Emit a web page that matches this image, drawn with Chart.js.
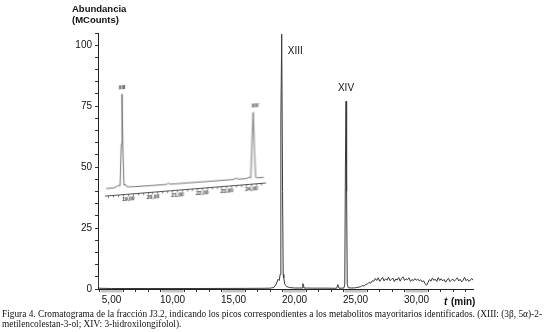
<!DOCTYPE html>
<html>
<head>
<meta charset="utf-8">
<script src="https://cdn.jsdelivr.net/npm/chart.js@4.4.1/dist/chart.umd.min.js"></script>
<style>
  html, body { margin: 0; padding: 0; background: #fff; }
  #wrap { position: relative; width: 544px; height: 332px; overflow: hidden; }
  #main { position: absolute; left: 0; top: 0; }
  #inset { position: absolute; left: 100px; top: 80px; transform-origin: 0 0; transform: skewY(-4.65deg); }
  #caption { position: absolute; left: 2px; top: 309px; font-family: "Liberation Serif", "Times New Roman", serif;
             font-size: 10px; line-height: 9.6px; color: #111; white-space: nowrap; transform-origin: 0 0; }
</style>
</head>
<body>
<div id="wrap">
  <canvas id="main" width="544" height="310"></canvas>
  <canvas id="inset" width="170" height="125"></canvas>
  <div id="caption"><span id="cap1">Figura 4. Cromatograma de la fracción J3.2, indicando los picos correspondientes a los metabolitos mayoritarios identificados. (XIII: (3β, 5α)-2-</span><br><span>metilencolestan-3-ol; XIV: 3-hidroxilongifolol).</span></div>
</div>
<script>
// main chromatogram (t in min, abundance in MCounts)
const mainTime = [3.89, 3.93, 4.0, 5.0, 8.0, 12.0, 16.0, 17.5, 18.0, 18.3, 18.5, 18.65, 18.75, 18.82, 18.88, 18.95, 19.02, 19.07, 19.12, 19.2, 19.35, 19.6, 20.0, 20.62, 20.68, 20.72, 20.78, 21.5, 22.5, 23.45, 23.55, 23.65, 24.05, 24.12, 24.17, 24.22, 24.27, 24.32, 24.4, 24.7, 25.0, 25.2, 25.4, 25.55, 25.7, 25.85, 26.0, 26.12, 26.25, 26.38,
  26.5, 26.62, 26.74, 26.86, 26.98, 27.1, 27.22, 27.34, 27.46, 27.58, 27.7, 27.82, 27.94, 28.06, 28.18, 28.3, 28.42, 28.54, 28.66, 28.78, 28.9, 29.02, 29.14, 29.26, 29.38, 29.5, 29.62, 29.74, 29.86, 29.98,
  30.1, 30.22, 30.34, 30.46, 30.58, 30.7, 30.82, 30.94, 31.06, 31.18, 31.3, 31.42, 31.54, 31.66, 31.78, 31.9, 32.02, 32.14, 32.26, 32.38, 32.5, 32.62, 32.74, 32.86, 32.98, 33.1, 33.22, 33.34, 33.46, 33.58, 33.7, 33.82, 33.94, 34.06, 34.18, 34.3, 34.42, 34.54, 34.62];
const mainAbund = [5.0, 0.8, 0.3, 0.2, 0.2, 0.2, 0.25, 0.3, 0.35, 0.6, 2.0, 4.0, 3.5, 6.0, 70, 104.5, 40, 6.0, 4.5, 2.0, 1.0, 0.6, 0.4, 0.4, 2.2, 2.0, 0.4, 0.35, 0.35, 0.3, 1.8, 0.3, 0.4, 2.0, 50, 77, 40, 2.0, 0.5, 0.4, 0.5, 0.7, 0.9, 1.4, 1.2, 1.9, 2.1, 2.8, 2.4, 3.4,
  3.2, 4.3, 3.5, 4.6, 3.1, 4.0, 4.8, 3.3, 4.2, 3.6, 4.9, 3.4, 3.9, 4.5, 3.0, 4.1, 3.7, 4.7, 3.2, 4.4, 5.0, 3.5, 4.2, 3.8, 4.6, 3.1, 3.9, 3.4, 4.3, 3.6,
  4.1, 3.3, 3.8, 2.9, 3.4, 2.2, 1.5, 2.6, 3.9, 3.2, 4.5, 3.6, 4.0, 3.1, 4.7, 3.5, 4.2, 3.3, 3.9, 2.8, 3.7, 4.4, 3.0, 3.6, 4.1, 3.2, 3.9, 4.6, 3.3, 4.0, 2.9, 3.6, 4.8, 3.4, 4.0, 3.1, 3.8, 4.3, 3.6];

// inset (zoom of 18-24.5 min)
const insetTime = [18.10, 18.40, 18.55, 18.62, 18.66, 18.71, 18.74, 18.78, 18.82, 18.87, 18.95, 19.2, 19.6, 20.0, 20.55, 20.62, 20.68, 21.0, 21.5, 22.0, 22.5, 23.0, 23.30, 23.38, 23.45, 23.8, 23.92, 23.97, 24.02, 24.07, 24.12, 24.17, 24.25, 24.5];
const insetAbund = [3.0, 3.0, 4.5, 5.5, 4.5, 50, 104.5, 40, 5.0, 6.0, 3.0, 2.6, 2.4, 2.2, 2.1, 3.5, 2.1, 2.0, 1.9, 1.8, 1.7, 1.6, 1.6, 3.2, 1.6, 1.5, 2.8, 1.5, 40, 73, 30, 2.0, 1.3, 1.2];

const peakNames = ['XIII', 'XIV'];
const peakTimes = [18.95, 24.22];
const peakTops = [104.5, 77];
const insetPeakTimes = [18.74, 24.07];
const insetPeakTops = [104.5, 73];

const yTickLabels = [0, 25, 50, 75, 100];
const xTickLabels = [5, 10, 15, 20, 25, 30];

function fmt(v) {
    return v.toFixed(2).replace('.', ',');
}

const mainText = {
    id: 'mainText',
    afterDraw(chart) {
        const ctx = chart.ctx;
        const xs = chart.scales.x, ys = chart.scales.y;
        ctx.save();
        // scan-like grey marks under the axis labels
        ctx.fillStyle = '#c4c4c4';
        xTickLabels.forEach(v => {
            const px = xs.getPixelForValue(v);
            ctx.fillRect(px - 11, 290, 22, 2.5);
        });
        ctx.fillStyle = '#111';
        ctx.font = 'bold 9.5px "Liberation Sans", Arial, sans-serif';
        ctx.textBaseline = 'alphabetic';
        ctx.textAlign = 'left';
        ctx.fillText('Abundancia', 72, 12);
        ctx.fillText('(MCounts)', 72, 23);
        // x axis title
        ctx.font = 'bold italic 10px "Liberation Sans", Arial, sans-serif';
        ctx.fillText('t', 444, 305);
        ctx.font = 'bold 10px "Liberation Sans", Arial, sans-serif';
        ctx.fillText('(min)', 451, 305);
        // peak labels
        ctx.font = '10px "Liberation Sans", Arial, sans-serif';
        ctx.textAlign = 'left';
        ctx.fillText(peakNames[0], xs.getPixelForValue(peakTimes[0]) + 6, ys.getPixelForValue(peakTops[0]) + 20);
        ctx.textAlign = 'center';
        ctx.fillText(peakNames[1], xs.getPixelForValue(peakTimes[1]), ys.getPixelForValue(peakTops[1]) - 10);
        ctx.restore();
    }
};

new Chart(document.getElementById('main').getContext('2d'), {
    type: 'line',
    data: {
        datasets: [{
            data: mainTime.map((t, i) => ({x: t, y: mainAbund[i]})),
            borderColor: '#3a3a3a',
            borderWidth: 1,
            pointRadius: 0,
            tension: 0,
            fill: false
        }]
    },
    options: {
        responsive: false,
        animation: false,
        layout: {padding: {left: 0, right: 71, top: 33, bottom: 0}},
        plugins: {legend: {display: false}, tooltip: {enabled: false}},
        scales: {
            x: {
                type: 'linear',
                min: 3.89,
                max: 34.63,
                afterFit: s => { s.height = 21; },
                border: {display: true, color: '#222', width: 1},
                grid: {drawOnChartArea: false, drawTicks: true, tickLength: 3, color: '#333'},
                ticks: {
                    stepSize: 1, autoSkip: false, includeBounds: false, maxRotation: 0, padding: 2,
                    color: '#111', font: {family: '"Liberation Sans", Arial, sans-serif', size: 10},
                    callback: v => xTickLabels.includes(v) ? fmt(v) : ''
                }
            },
            y: {
                min: 0,
                max: 105,
                afterFit: s => { s.width = 98; },
                border: {display: true, color: '#222', width: 1},
                grid: {drawOnChartArea: false, drawTicks: true, tickLength: 3, color: '#333'},
                ticks: {
                    stepSize: 5, autoSkip: false, includeBounds: false, padding: 3,
                    color: '#111', font: {family: '"Liberation Sans", Arial, sans-serif', size: 10},
                    callback: v => yTickLabels.includes(v) ? String(v) : ''
                }
            }
        }
    },
    plugins: [mainText]
});

const insetText = {
    id: 'insetText',
    afterDraw(chart) {
        const ctx = chart.ctx;
        const xs = chart.scales.x, ys = chart.scales.y;
        ctx.save();
        ctx.fillStyle = '#222';
        ctx.font = 'bold 4.5px "Liberation Sans", Arial, sans-serif';
        ctx.textAlign = 'center';
        insetPeakTimes.forEach((t, i) => {
            ctx.fillText(peakNames[i], xs.getPixelForValue(t) + (i ? 2 : 0), ys.getPixelForValue(insetPeakTops[i]) - 5);
        });
        ctx.restore();
    }
};

new Chart(document.getElementById('inset').getContext('2d'), {
    type: 'line',
    data: {
        datasets: [{
            data: insetTime.map((t, i) => ({x: t, y: insetAbund[i]})),
            borderColor: '#707070',
            borderWidth: 1,
            pointRadius: 0,
            tension: 0,
            fill: false
        }]
    },
    options: {
        responsive: false,
        animation: false,
        layout: {padding: {left: 5, right: 5, top: 8, bottom: 0}},
        plugins: {legend: {display: false}, tooltip: {enabled: false}},
        scales: {
            x: {
                type: 'linear',
                min: 18.05,
                max: 24.55,
                afterFit: s => { s.height = 8.6; },
                border: {display: true, color: '#555', width: 1},
                grid: {drawOnChartArea: false, drawTicks: true, tickLength: 2, color: '#555'},
                ticks: {
                    stepSize: 0.2, autoSkip: false, includeBounds: false, maxRotation: 0, padding: 0,
                    color: '#222', font: {family: '"Liberation Sans", Arial, sans-serif', size: 5, weight: 'bold'},
                    callback: v => Math.abs(v - Math.round(v)) < 1e-6 ? fmt(Math.round(v)) : ''
                }
            },
            y: {display: false, min: -5, max: 113}
        }
    },
    plugins: [insetText]
});

// squeeze the caption so the first line spans the page width like the original
const cap = document.getElementById('caption');
const w = document.getElementById('cap1').getBoundingClientRect().width;
cap.style.transform = 'scaleX(' + (540 / w) + ')';
</script>
</body>
</html>
